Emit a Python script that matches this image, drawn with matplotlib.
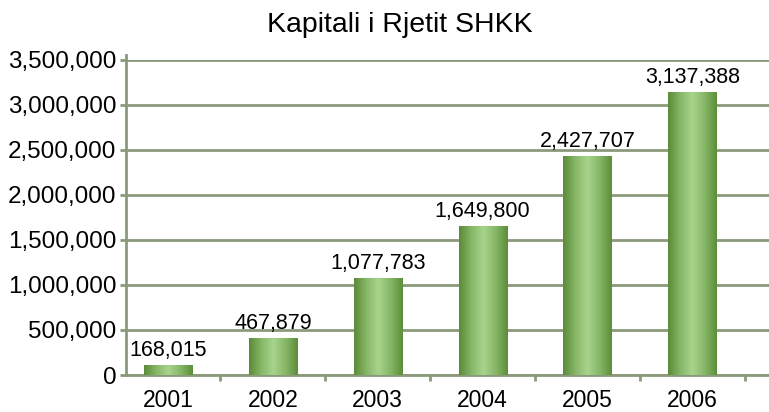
import numpy as np
import matplotlib
matplotlib.use("Agg")
import matplotlib.pyplot as plt
from matplotlib.colors import LinearSegmentedColormap
from matplotlib.patches import Rectangle

years = ["2001", "2002", "2003", "2004", "2005", "2006"]
labels = ["168,015", "467,879", "1,077,783", "1,649,800", "2,427,707", "3,137,388"]
# bar heights as drawn in the picture (first two are drawn a bit short)
heights = [115000, 415000, 1077783, 1649800, 2427707, 3137388]
yticks = [0, 500000, 1000000, 1500000, 2000000, 2500000, 3000000, 3500000]

plt.rcParams['font.family'] = ['Liberation Sans', 'DejaVu Sans']
grid_col = '#8a9a7a'

fig = plt.figure(figsize=(7.69, 4.12), dpi=100)
ax = fig.add_axes([126 / 769, 1 - 375 / 412, 1 - 126 / 769, (375 - 59.5) / 412])

x = np.arange(len(years))
width = 0.46
cmap = LinearSegmentedColormap.from_list(
    'bar', ['#5c8a38', '#86b868', '#a8d48c', '#86b868', '#5e8e3a'])
grad = np.linspace(0, 1, 64).reshape(1, -1)

bars = ax.bar(x, heights, width=width, color='none', zorder=3)
for b in bars:
    x0, w, h = b.get_x(), b.get_width(), b.get_height()
    im = ax.imshow(grad, cmap=cmap, aspect='auto', extent=[x0, x0 + w, 0, h],
                   zorder=3, interpolation='bicubic')
    im.set_clip_path(Rectangle((x0, 0), w, h, transform=ax.transData))

for xi, h, lab in zip(x, heights, labels):
    ax.text(xi, h + 45000, lab, ha='center', va='bottom', fontsize=15.5, zorder=4)

ax.set_xlim(-0.40, 5.73)
ax.set_ylim(0, 3500000)
ax.set_yticks(yticks)
ax.set_yticklabels([f"{v:,}" for v in yticks], fontsize=17.5)
ax.set_xticks(x)
ax.set_xticklabels(years, fontsize=16.5)
ax.set_xticks(np.arange(-0.5, 6, 1)[1:], minor=True)
ax.tick_params(axis='x', which='major', length=0, pad=10)
ax.tick_params(axis='x', which='minor', length=4, width=2, color=grid_col)
ax.tick_params(axis='y', length=4, width=2, color=grid_col, pad=3)

ax.grid(axis='y', color=grid_col, linewidth=2, zorder=1)
ax.set_axisbelow(True)
for s in ['top', 'right']:
    ax.spines[s].set_visible(False)
for s in ['left', 'bottom']:
    ax.spines[s].set_color(grid_col)
    ax.spines[s].set_linewidth(2)
ax.spines['left'].set_bounds(0, 3550000)

fig.text(400 / 769, 1 - 32 / 412, "Kapitali i Rjetit SHKK", ha='center',
         va='baseline', fontsize=20.5)

fig.savefig("out.png", dpi=100)
